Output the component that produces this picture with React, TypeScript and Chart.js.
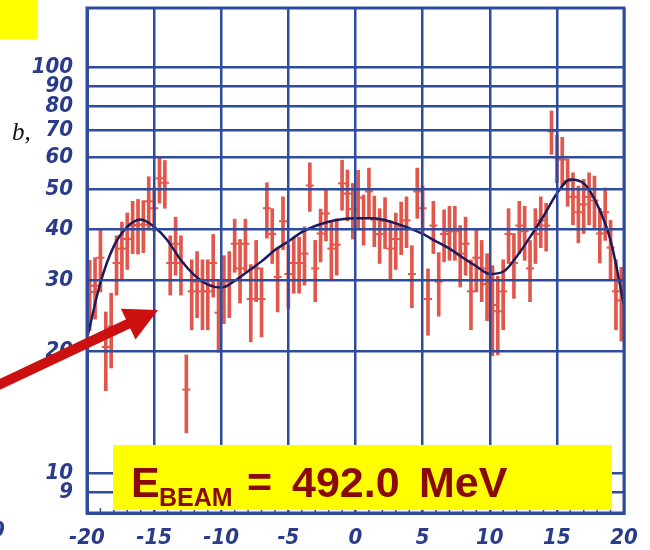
import React, { useEffect, useRef } from "react";
import { Chart, registerables } from "chart.js";

Chart.register(...registerables);

// ---- data ----
const binX = [
  -19.8, -19.4, -19.0, -18.6, -18.2, -17.8, -17.4, -17.0, -16.6, -16.2,
  -15.8, -15.4, -15.0, -14.6, -14.2, -13.8, -13.4, -13.0, -12.6, -12.2,
  -11.8, -11.4, -11.0, -10.6, -10.2, -9.8, -9.4, -9.0, -8.6, -8.2,
  -7.8, -7.4, -7.0, -6.6, -6.2, -5.8, -5.4, -5.0, -4.6, -4.2,
  -3.8, -3.4, -3.0, -2.6, -2.2, -1.8, -1.4, -1.0, -0.6, -0.2,
  0.2, 0.6, 1.0, 1.4, 1.8, 2.2, 2.6, 3.0, 3.4, 3.8,
  4.2, 4.6, 5.0, 5.4, 5.8, 6.2, 6.6, 7.0, 7.4, 7.8,
  8.2, 8.6, 9.0, 9.4, 9.8, 10.2, 10.6, 11.0, 11.4, 11.8,
  12.2, 12.6, 13.0, 13.4, 13.8, 14.2, 14.6, 15.0, 15.4, 15.8,
  16.2, 16.6, 17.0, 17.4, 17.8, 18.2, 18.6, 19.0, 19.4, 19.8,
];

const counts = [
  28, 29, 34, 20.5, 23, 33, 35.8, 37.8, 40.8, 41,
  41, 46.8, 45, 53.3, 52, 33, 36.8, 33, 16.1, 28.1,
  29.7, 28.1, 28.1, 33, 24.9, 28.9, 29.7, 36.8, 32, 36.8,
  26.9, 32, 26.9, 45, 38.9, 30.5, 41.8, 31, 33, 33,
  34.8, 51.2, 32, 39, 43.7, 35.8, 36.6, 51.8, 48.9, 44.8,
  47.8, 42.5, 49.5, 42.2, 38.9, 41.8, 35.8, 37.8, 40.6, 42,
  31, 49.5, 45, 26.9, 40.8, 29.7, 38.9, 39.5, 39.5, 34.8,
  36.8, 28.1, 34, 32, 29.3, 26, 25.1, 28.1, 38.9, 33,
  40.8, 39.5, 32, 38.9, 42, 40.8, 69.6, 60, 59.3, 52.5,
  48, 44, 46, 48, 47, 39, 44, 36, 28.1, 26.7,
];

const errors = [
  5.5, 5, 6, 4.5, 4.8, 5.5, 5.8, 6, 6, 6.3,
  6, 7, 5.5, 7, 7, 5.5, 6, 5.5, 3.5, 5.5,
  5.5, 5.5, 5.5, 5.8, 5, 5.5, 5.5, 5.5, 5.7, 5.5,
  5.8, 5.5, 5.2, 7, 6, 5.5, 6.2, 5.5, 5.2, 5.2,
  5.7, 7, 5.5, 5.8, 6.3, 5.8, 5.8, 7.3, 7, 7,
  8, 6, 7, 6, 6, 6, 5.8, 6, 6, 6,
  5.4, 7, 6, 5, 6, 5.3, 5.7, 6, 6, 6,
  6, 5.5, 6, 5.5, 5.5, 6.5, 5.5, 5.5, 6, 6,
  6, 6, 5.5, 6, 6, 5.5, 8.5, 8, 8, 7,
  7, 7, 7, 7, 7, 6, 6.5, 6, 5.5, 5.5,
];

const fitX = [
  -20, -19, -18, -17, -16, -15, -14, -13, -12, -11,
  -10, -9, -8, -7, -6, -5, -4, -3, -2, -1,
  0, 1, 2, 3, 4, 5, 6, 7, 8, 9,
  10, 11, 12, 13, 14, 15, 16, 17, 18, 19, 20,
];
const fitY = [
  21.5, 29.5, 36.3, 40.5, 42.2, 40.5, 37.5, 33.5, 30.8, 29.2,
  28.7, 29.8, 31.5, 33.3, 35.5, 37.3, 39.3, 40.7, 41.7, 42.3,
  42.5, 42.5, 42.2, 41.3, 40.2, 38.9, 37.3, 35.8, 34.0, 32.4,
  31.0, 31.4, 34.2, 38.2, 43.0, 48.9, 53.0, 51.8, 46.0, 37.5, 26.0,
];

const xTickValues = [-20, -15, -10, -5, 0, 5, 10, 15, 20];
const yTickValues = [9, 10, 20, 30, 40, 50, 60, 70, 80, 90, 100];
const xMinorStep = 1;

// ---- styles ----
const GRID = "#2F4C9C";
const LABEL = "#2A3B8A";
const RED = "#E2574C";
const NAVY = "#1C1B5A";
const TICK_FONT = {
  family: "'Liberation Sans Narrow', 'DejaVu Sans Condensed', 'Liberation Sans', sans-serif",
  size: 22,
  style: "italic" as const,
  weight: "bold" as const,
};

const noPad = (s: any) => {
  s.paddingTop = 0;
  s.paddingBottom = 0;
  s.paddingLeft = 0;
  s.paddingRight = 0;
};

export default function App() {
  const ref = useRef<HTMLCanvasElement>(null);

  useEffect(() => {
    document.body.style.margin = "0";
    const canvas = ref.current!;

    const frame = {
      id: "frame",
      afterDraw(chart: any) {
        const c = chart.ctx;
        const a = chart.chartArea;
        const xs = chart.scales.x;
        c.save();
        c.strokeStyle = GRID;
        c.lineWidth = 1.5;
        for (let v = xs.min; v <= xs.max; v += xMinorStep) {
          const px = xs.getPixelForValue(v);
          c.beginPath();
          c.moveTo(px, a.bottom);
          c.lineTo(px, a.bottom - 5);
          c.stroke();
        }
        c.lineWidth = 3;
        c.strokeRect(a.left, a.top, a.right - a.left, a.bottom - a.top);
        c.restore();
      },
    };

    const chart = new Chart(canvas, {
      type: "scatter",
      data: {
        datasets: [
          {
            type: "bar",
            data: binX.map((x, i) => ({ x, y: [counts[i] - errors[i], counts[i] + errors[i]] })) as any,
            backgroundColor: RED,
            borderWidth: 0,
            barThickness: 3,
            order: 3,
          } as any,
          {
            type: "scatter",
            data: binX.map((x, i) => ({ x, y: counts[i] })),
            pointStyle: "line",
            pointRadius: 4,
            borderColor: RED,
            backgroundColor: RED,
            borderWidth: 2,
            order: 2,
          } as any,
          {
            type: "line",
            data: fitX.map((x, i) => ({ x, y: fitY[i] })),
            borderColor: NAVY,
            borderWidth: 2.5,
            pointRadius: 0,
            cubicInterpolationMode: "monotone",
            fill: false,
            order: 1,
          } as any,
        ],
      },
      options: {
        animation: false,
        responsive: false,
        events: [],
        layout: { padding: { left: 0, right: 26, top: 8, bottom: 0 } },
        plugins: { legend: { display: false }, tooltip: { enabled: false } },
        scales: {
          x: {
            type: "linear",
            min: -20,
            max: 20,
            offset: false,
            afterFit: (s: any) => {
              s.height = 37;
              noPad(s);
            },
            afterBuildTicks: (s: any) => {
              s.ticks = xTickValues.map((v) => ({ value: v }));
            },
            grid: { color: GRID, lineWidth: 2.5, drawTicks: false, offset: false, z: 1 } as any,
            border: { color: GRID, width: 3, z: 1 } as any,
            ticks: {
              color: LABEL,
              font: TICK_FONT,
              padding: 12,
              maxRotation: 0,
              autoSkip: false,
              callback: (v: any) => String(v),
            },
          },
          y: {
            type: "logarithmic",
            min: 8,
            max: 140,
            afterFit: (s: any) => {
              s.width = 87;
              noPad(s);
            },
            afterBuildTicks: (s: any) => {
              s.ticks = yTickValues.map((v) => ({ value: v }));
            },
            grid: { color: GRID, lineWidth: 2.5, drawTicks: false, z: 1 } as any,
            border: { color: GRID, width: 3, z: 1 } as any,
            ticks: {
              color: LABEL,
              font: TICK_FONT,
              padding: 14,
              autoSkip: false,
              callback: (v: any) => String(v),
            },
          },
        },
      },
      plugins: [frame],
    });
    return () => chart.destroy();
  }, []);

  const base: React.CSSProperties = { position: "absolute", lineHeight: 1, whiteSpace: "pre" };
  const beamFont = "'Liberation Sans', Arial, sans-serif";
  const beamColor = "#8A0A0A";
  const big = 43;
  const bigTop = 497 - 0.8465 * big;

  return (
    <div style={{ position: "absolute", left: 0, top: 0, width: 650, height: 550, background: "#fff", overflow: "hidden" }}>
      <canvas ref={ref} width={650} height={550} style={{ position: "absolute", left: 0, top: 0 }} />
      <div style={{ position: "absolute", left: 0, top: 0, width: 37, height: 39, background: "#FFFF00" }} />
      <span style={{ ...base, left: 12, top: 119, fontFamily: "'Liberation Serif', serif", fontStyle: "italic", fontSize: 25, color: "#111" }}>
        b,
      </span>
      <span style={{ ...base, left: -9, top: 519, fontFamily: TICK_FONT.family, fontStyle: "italic", fontWeight: "bold", fontSize: 22, color: LABEL }}>
        0
      </span>
      <svg width={650} height={550} style={{ position: "absolute", left: 0, top: 0 }}>
        <line x1={-10} y1={389} x2={132} y2={322} stroke="#CC1010" strokeWidth={10} />
        <polygon points="158,310 135.5,339.5 120.9,308.8" fill="#CC1010" />
      </svg>
      <div style={{ position: "absolute", left: 113, top: 445, width: 499, height: 65, background: "#FFFF00" }} />
      <span style={{ ...base, left: 131, top: bigTop, fontFamily: beamFont, fontWeight: "bold", fontSize: big, color: beamColor }}>E</span>
      <span style={{ ...base, left: 159, top: 506 - 0.8465 * 25, fontFamily: beamFont, fontWeight: "bold", fontSize: 25, color: beamColor }}>BEAM</span>
      <span style={{ ...base, left: 247, top: bigTop, fontFamily: beamFont, fontWeight: "bold", fontSize: big, color: beamColor }}>=</span>
      <span style={{ ...base, left: 292, top: bigTop, fontFamily: beamFont, fontWeight: "bold", fontSize: big, color: beamColor }}>492.0</span>
      <span style={{ ...base, left: 419, top: bigTop, fontFamily: beamFont, fontWeight: "bold", fontSize: big, color: beamColor }}>MeV</span>
    </div>
  );
}
